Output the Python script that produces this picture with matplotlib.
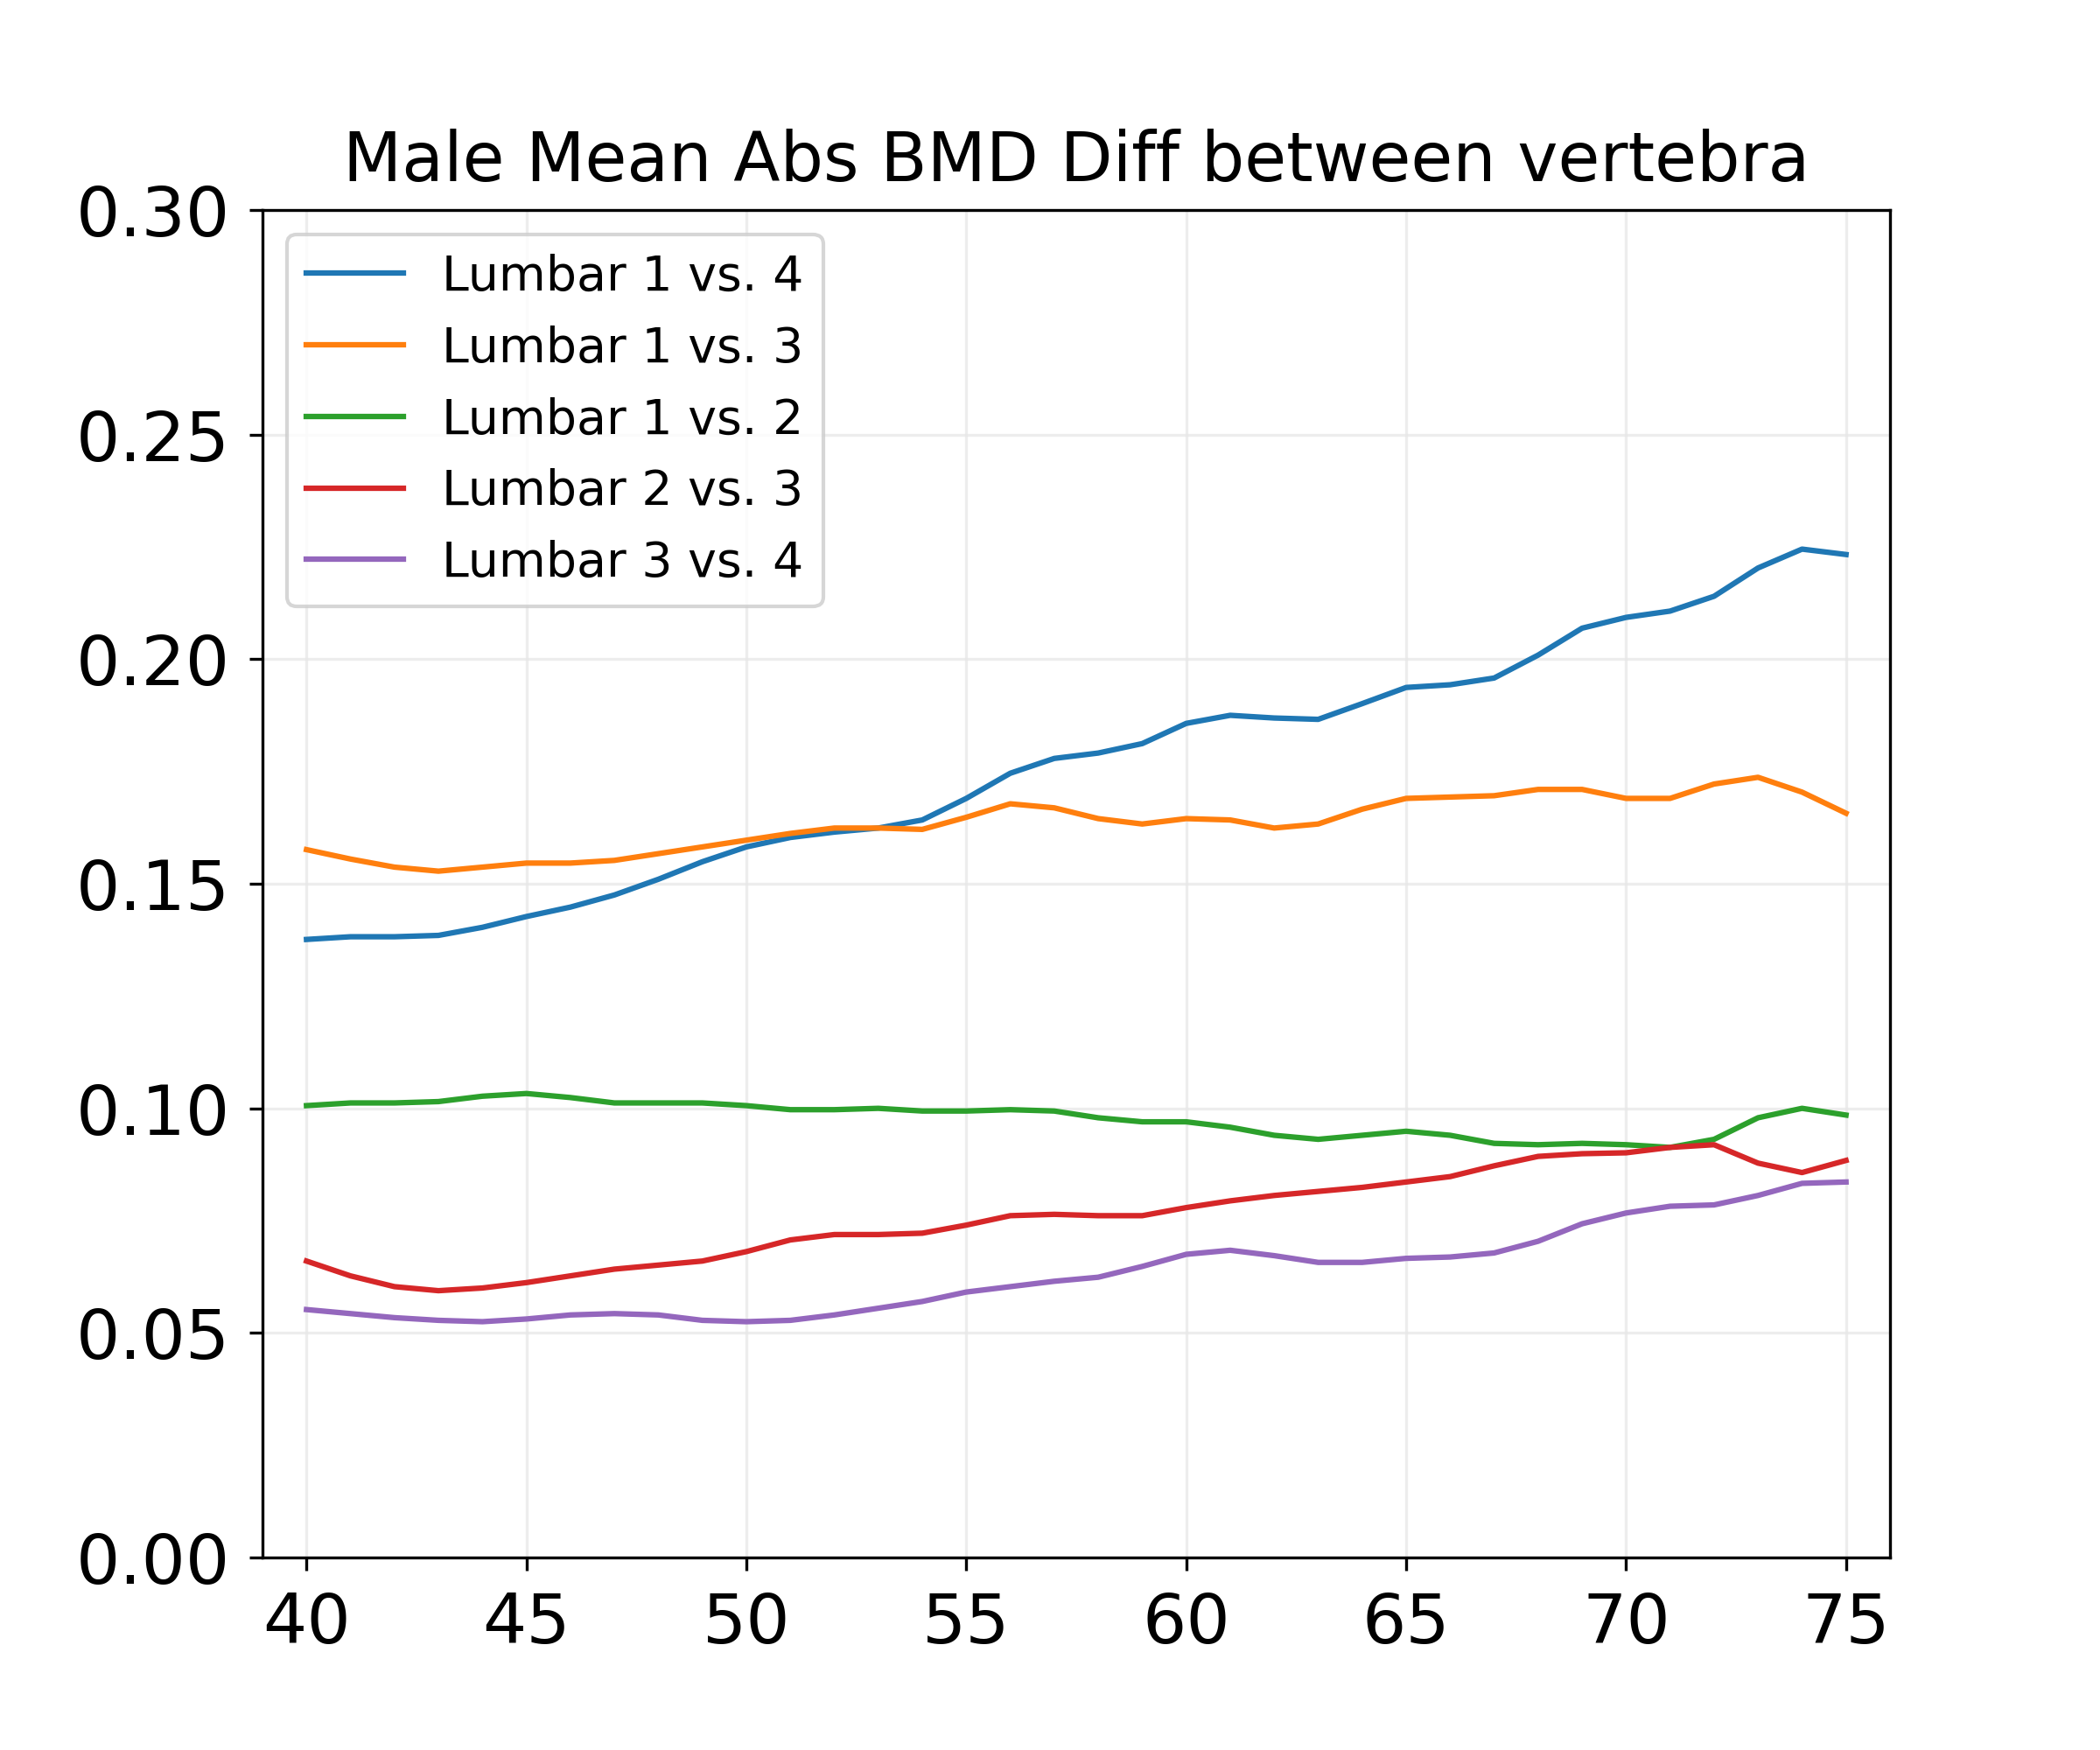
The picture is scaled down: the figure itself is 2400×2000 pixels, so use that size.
import numpy as np
import matplotlib
matplotlib.use("Agg")
import matplotlib.pyplot as plt

ages = list(range(40, 76))

lumbar_1_4 = [0.1376, 0.1382, 0.1382, 0.1385, 0.1403, 0.1427, 0.1448, 0.1475, 0.1510, 0.1549,
              0.1582, 0.1603, 0.1615, 0.1624, 0.1642, 0.1690, 0.1746, 0.1779, 0.1791, 0.1812,
              0.1857, 0.1875, 0.1869, 0.1866, 0.1901, 0.1937, 0.1943, 0.1958, 0.2009, 0.2069,
              0.2093, 0.2107, 0.2140, 0.2203, 0.2245, 0.2233]
lumbar_1_3 = [0.1576, 0.1555, 0.1537, 0.1528, 0.1537, 0.1546, 0.1546, 0.1552, 0.1567, 0.1582,
              0.1597, 0.1612, 0.1624, 0.1624, 0.1621, 0.1648, 0.1678, 0.1669, 0.1645, 0.1633,
              0.1645, 0.1642, 0.1624, 0.1633, 0.1666, 0.1690, 0.1693, 0.1696, 0.1710, 0.1710,
              0.1690, 0.1690, 0.1722, 0.1737, 0.1704, 0.1657]
lumbar_1_2 = [0.1006, 0.1012, 0.1012, 0.1015, 0.1027, 0.1033, 0.1024, 0.1012, 0.1012, 0.1012,
              0.1006, 0.0997, 0.0997, 0.1000, 0.0994, 0.0994, 0.0997, 0.0994, 0.0979, 0.0970,
              0.0970, 0.0958, 0.0940, 0.0931, 0.0940, 0.0949, 0.0940, 0.0922, 0.0919, 0.0922,
              0.0919, 0.0913, 0.0931, 0.0979, 0.1000, 0.0985]
lumbar_2_3 = [0.0660, 0.0627, 0.0603, 0.0594, 0.0600, 0.0612, 0.0627, 0.0642, 0.0651, 0.0660,
              0.0681, 0.0707, 0.0719, 0.0719, 0.0722, 0.0740, 0.0761, 0.0764, 0.0761, 0.0761,
              0.0779, 0.0794, 0.0806, 0.0815, 0.0824, 0.0836, 0.0848, 0.0872, 0.0893, 0.0899,
              0.0901, 0.0913, 0.0919, 0.0878, 0.0857, 0.0884]
lumbar_3_4 = [0.0552, 0.0543, 0.0534, 0.0528, 0.0525, 0.0531, 0.0540, 0.0543, 0.0540, 0.0528,
              0.0525, 0.0528, 0.0540, 0.0555, 0.0570, 0.0591, 0.0603, 0.0615, 0.0624, 0.0648,
              0.0675, 0.0684, 0.0672, 0.0657, 0.0657, 0.0666, 0.0669, 0.0678, 0.0704, 0.0743,
              0.0767, 0.0782, 0.0785, 0.0806, 0.0833, 0.0836]

labels = ["Lumbar 1 vs. 4", "Lumbar 1 vs. 3", "Lumbar 1 vs. 2", "Lumbar 2 vs. 3", "Lumbar 3 vs. 4"]
series = [lumbar_1_4, lumbar_1_3, lumbar_1_2, lumbar_2_3, lumbar_3_4]

fig = plt.figure(figsize=(8, 6.6667), dpi=300)
ax = plt.gca()
for vals, lab in zip(series, labels):
    ax.plot(ages, vals, label=lab, linewidth=1.5)

ax.set_xlim(39, 76)
ax.set_ylim(0, 0.30)
ax.set_xticks(range(40, 76, 5))
ax.set_yticks(np.arange(0, 0.31, 0.05))
ax.tick_params(labelsize=19, pad=5.5)
ax.grid(True, color="#e6e6e6", linewidth=0.8, alpha=0.7)
ax.set_title("Male Mean Abs BMD Diff between vertebra", fontsize=18.7, pad=8)
ax.legend(loc="upper left", fontsize=13.3)

plt.savefig("out.png", dpi=300)
